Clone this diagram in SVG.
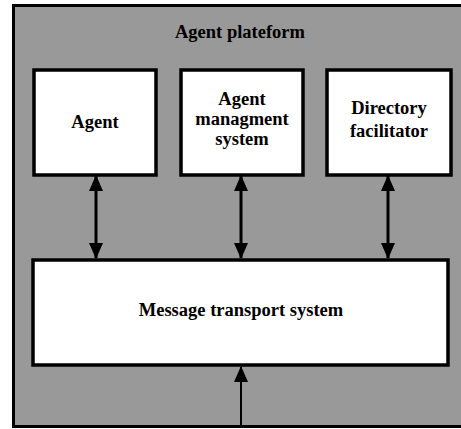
<svg xmlns="http://www.w3.org/2000/svg" width="461" height="429" viewBox="0 0 461 429">
<style>
.frame{fill:#999999;stroke:#000;stroke-width:3}
.box{fill:#fff;stroke:#000;stroke-width:3.5}
.t{font-family:'Liberation Serif','DejaVu Serif',serif;font-size:18.5px;font-weight:bold;text-anchor:middle;fill:#000}
.c{stroke:#000;stroke-width:3;fill:none}
.c2{stroke:#000;stroke-width:2;fill:none}
</style>
<defs>
<marker id="ah" markerUnits="userSpaceOnUse" markerWidth="16" markerHeight="14" refX="15" refY="7" orient="auto-start-reverse" viewBox="0 0 16 14">
<path d="M0,0 L16,7 L0,14 Z" fill="#000"/>
</marker>
</defs>
<g id="platform">
<rect class="frame" x="13.5" y="5.5" width="460" height="421"/>
<text class="t" x="240" y="38">Agent plateform</text>
</g>
<g id="agent">
<rect class="box" x="34" y="70" width="122" height="105"/>
<text class="t" x="95" y="128">Agent</text>
</g>
<g id="ams">
<rect class="box" x="181" y="70" width="122" height="105"/>
<text class="t" x="242" y="105">Agent</text>
<text class="t" x="242" y="125">managment</text>
<text class="t" x="242" y="145">system</text>
</g>
<g id="df">
<rect class="box" x="327" y="70" width="124" height="105"/>
<text class="t" x="389" y="114">Directory</text>
<text class="t" x="389" y="137">facilitator</text>
</g>
<g id="mts">
<rect class="box" x="33" y="260" width="415" height="105"/>
<text class="t" x="241" y="316">Message transport system</text>
</g>
<g id="connectors">
<line class="c" x1="96" y1="176" x2="96" y2="258" marker-start="url(#ah)" marker-end="url(#ah)"/>
<line class="c" x1="241" y1="176" x2="241" y2="258" marker-start="url(#ah)" marker-end="url(#ah)"/>
<line class="c" x1="388" y1="176" x2="388" y2="258" marker-start="url(#ah)" marker-end="url(#ah)"/>
<line class="c2" x1="241" y1="426" x2="241" y2="367" marker-end="url(#ah)"/>
</g>
</svg>
